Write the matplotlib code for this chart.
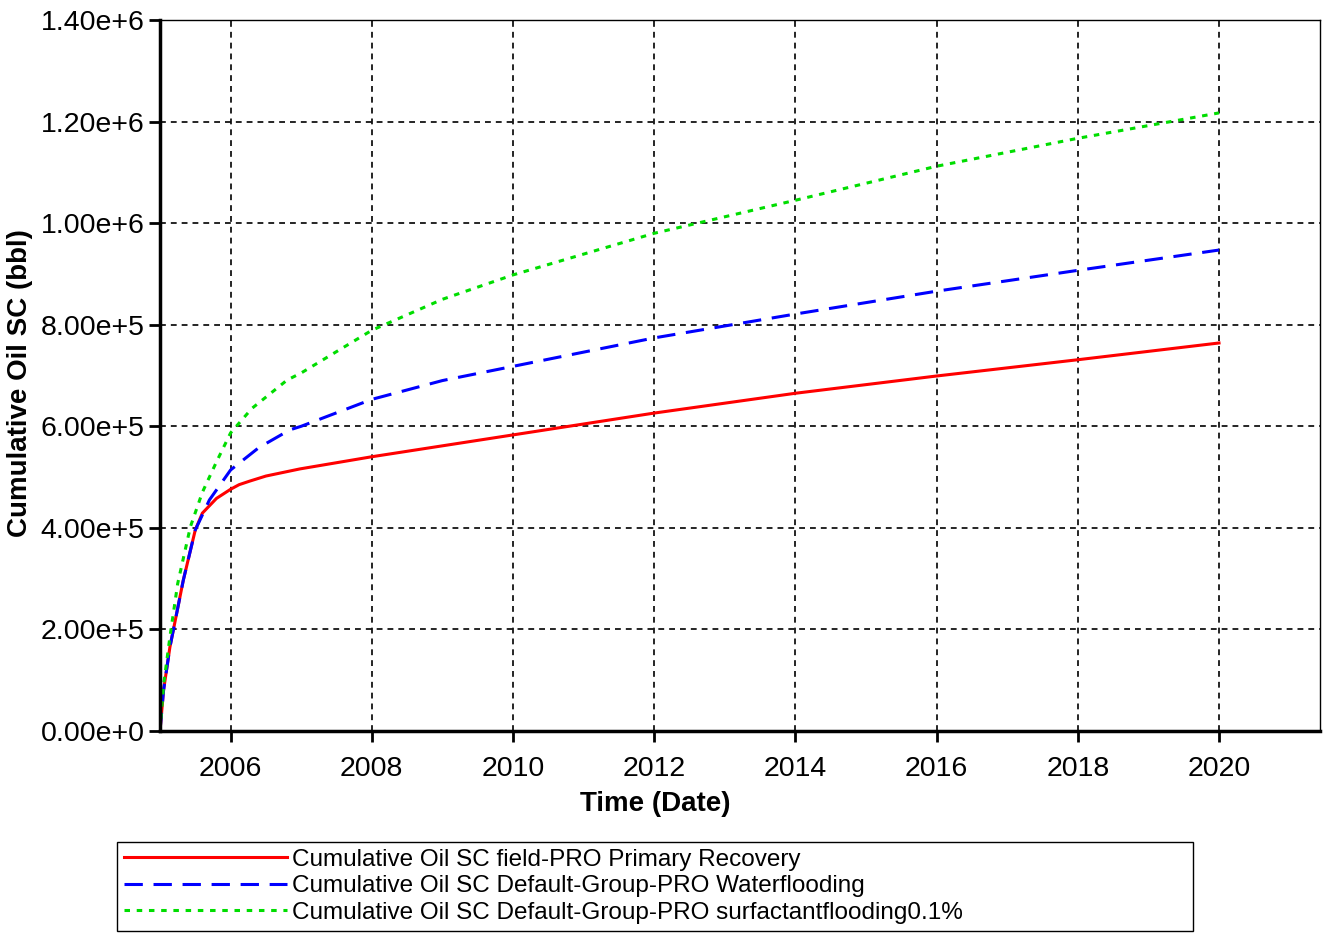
import matplotlib
matplotlib.use('Agg')
from matplotlib import pyplot as plt

# time in decimal years, cumulative oil in bbl
t_primary = [2005.0, 2005.05, 2005.14, 2005.33, 2005.5, 2005.6, 2005.8, 2006.0, 2006.12, 2006.27,
             2006.5, 2006.98, 2008.0, 2010.0, 2012.0, 2014.0, 2016.0, 2018.0, 2020.0]
oil_primary = [0, 80e3, 165e3, 297e3, 396e3, 429e3, 458e3, 476e3, 485e3, 492e3,
               502e3, 516e3, 540e3, 583e3, 626e3, 665e3, 699e3, 731e3, 764e3]

t_water = [2005.0, 2005.05, 2005.14, 2005.33, 2005.5, 2005.7, 2006.0, 2006.4, 2006.84,
           2007.0, 2008.0, 2009.0, 2010.0, 2012.0, 2014.0, 2016.0, 2018.0, 2020.0]
oil_water = [0, 80e3, 165e3, 297e3, 396e3, 455e3, 514e3, 558e3, 593e3,
             600e3, 653e3, 690e3, 718e3, 774e3, 821e3, 866e3, 907e3, 947e3]

t_surf = [2005.0, 2005.05, 2005.14, 2005.25, 2005.43, 2005.6, 2005.8, 2006.0, 2006.3, 2006.8,
          2007.0, 2008.0, 2009.0, 2010.0, 2012.0, 2014.0, 2016.0, 2018.0, 2020.0]
oil_surf = [0, 90e3, 185e3, 290e3, 402e3, 470e3, 530e3, 587e3, 635e3, 691e3,
            705e3, 789e3, 850e3, 898e3, 980e3, 1045e3, 1112e3, 1167e3, 1217e3]

labels = ['Cumulative Oil SC field-PRO Primary Recovery',
          'Cumulative Oil SC Default-Group-PRO Waterflooding',
          'Cumulative Oil SC Default-Group-PRO surfactantflooding0.1%']

plt.rcParams['font.family'] = ['Liberation Sans', 'DejaVu Sans']

fig = plt.figure(figsize=(13.29, 9.33), dpi=100)
ax = fig.add_axes([0.1204, 0.2165, 0.8728, 0.7621])

ax.plot(t_primary, oil_primary, color='#ff0000', lw=2.2, label=labels[0])
ax.plot(t_water, oil_water, color='#0000ff', lw=2.2, dashes=(6, 3.5), label=labels[1])
ax.plot(t_surf, oil_surf, color='#00dd00', lw=2.2, dashes=(1.8, 2.2), label=labels[2])

ax.set_xlim(2005.0, 2021.43)
ax.set_ylim(0, 1.4e6)
ax.set_xticks(range(2006, 2021, 2))
ax.set_yticks([i * 2e5 for i in range(8)])
ax.set_yticklabels(['%.2fe+%d' % (v / 10 ** (5 if v < 1e6 else 6), 5 if v < 1e6 else 6)
                    if v > 0 else '0.00e+0' for v in ax.get_yticks()])

ax.grid(True, color='black', linestyle=(0, (3.5, 3)), linewidth=1.2)
ax.tick_params(labelsize=20.5, width=2, length=8, direction='out')
ax.tick_params(axis='x', pad=10)
ax.tick_params(axis='y', pad=3)
ax.spines['left'].set_linewidth(2.5)
ax.spines['bottom'].set_linewidth(2.5)
ax.spines['top'].set_linewidth(1.0)
ax.spines['right'].set_linewidth(1.0)

ax.set_xlabel('Time (Date)', fontsize=20, fontweight='bold', labelpad=10)
ax.xaxis.set_label_coords(0.427, -0.085)
ax.set_ylabel('Cumulative Oil SC (bbl)', fontsize=20, fontweight='bold')
ax.yaxis.set_label_coords(-0.1095, 0.49)

leg = fig.legend(loc='lower left', bbox_to_anchor=(117 / 1329, 2 / 933, 1076 / 1329, 95 / 933),
                 mode='expand', fontsize=17.5, handlelength=6.7, handletextpad=0.2,
                 labelspacing=0.18, borderaxespad=0, fancybox=False, framealpha=1,
                 edgecolor='black', borderpad=0.3)
leg.get_frame().set_linewidth(1.0)

plt.savefig('out.png', dpi=100)
